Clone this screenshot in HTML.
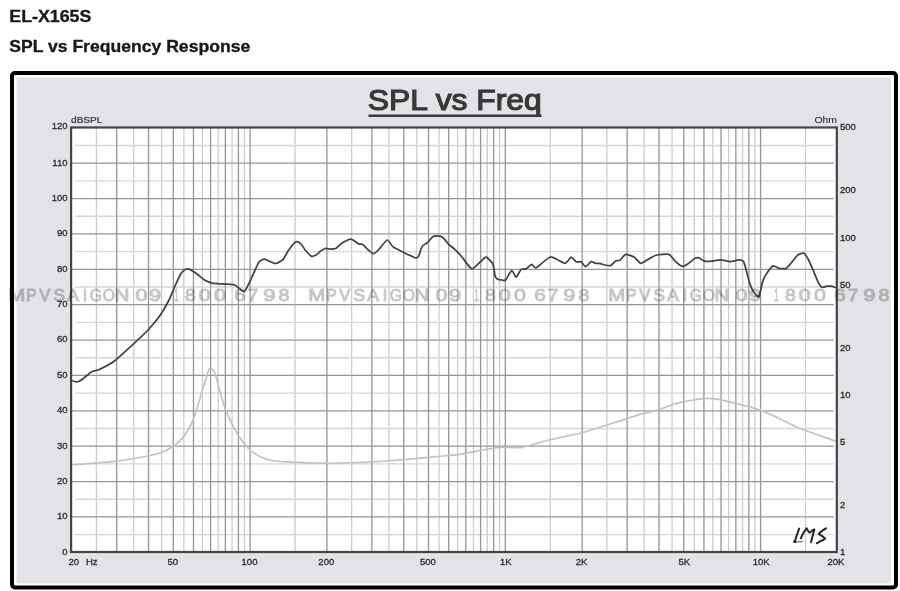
<!DOCTYPE html>
<html><head><meta charset="utf-8"><style>
html,body{margin:0;padding:0;background:#fff;width:900px;height:591px;overflow:hidden}
svg{display:block}
text{font-family:"Liberation Sans",sans-serif}
svg{will-change:transform}
</style></head><body>
<svg width="900" height="591" viewBox="0 0 900 591">
<rect x="0" y="0" width="900" height="591" fill="#fff"/>
<text x="9.3" y="21.5" font-size="17" font-weight="bold" fill="#1a1a1a" stroke="#1a1a1a" stroke-width="0.35" textLength="82" lengthAdjust="spacingAndGlyphs">EL-X165S</text>
<text x="9.2" y="51.5" font-size="16.5" font-weight="bold" fill="#1a1a1a" stroke="#1a1a1a" stroke-width="0.35" textLength="241" lengthAdjust="spacingAndGlyphs">SPL vs Frequency Response</text>
<rect x="12" y="73" width="884" height="514.5" rx="3" fill="#fff" stroke="#000" stroke-width="4"/>
<rect x="16.5" y="77.5" width="874.5" height="506" fill="#e3e2e6"/>
<text x="367.8" y="109.8" font-size="30" fill="#383838" stroke="#383838" stroke-width="1.2" textLength="174" lengthAdjust="spacingAndGlyphs">SPL vs Freq</text>
<rect x="368.5" y="114.5" width="173" height="2.5" fill="#383838"/>
<rect x="71.1" y="127.5" width="765.6999999999999" height="424.5" fill="#fff"/>
<defs><filter id="bl" x="-1%" y="-1%" width="102%" height="102%"><feGaussianBlur stdDeviation="0.4"/></filter></defs>
<g stroke-width="1.3" filter="url(#bl)">
<line x1="96.43" y1="127.5" x2="96.43" y2="552.0" stroke="#cdcdcd"/>
<line x1="133.73" y1="127.5" x2="133.73" y2="552.0" stroke="#cdcdcd"/>
<line x1="161.59" y1="127.5" x2="161.59" y2="552.0" stroke="#cdcdcd"/>
<line x1="183.83" y1="127.5" x2="183.83" y2="552.0" stroke="#cdcdcd"/>
<line x1="202.35" y1="127.5" x2="202.35" y2="552.0" stroke="#cdcdcd"/>
<line x1="218.21" y1="127.5" x2="218.21" y2="552.0" stroke="#cdcdcd"/>
<line x1="232.09" y1="127.5" x2="232.09" y2="552.0" stroke="#cdcdcd"/>
<line x1="244.41" y1="127.5" x2="244.41" y2="552.0" stroke="#cdcdcd"/>
<line x1="295.04" y1="127.5" x2="295.04" y2="552.0" stroke="#cdcdcd"/>
<line x1="351.67" y1="127.5" x2="351.67" y2="552.0" stroke="#cdcdcd"/>
<line x1="388.96" y1="127.5" x2="388.96" y2="552.0" stroke="#cdcdcd"/>
<line x1="416.82" y1="127.5" x2="416.82" y2="552.0" stroke="#cdcdcd"/>
<line x1="439.07" y1="127.5" x2="439.07" y2="552.0" stroke="#cdcdcd"/>
<line x1="457.58" y1="127.5" x2="457.58" y2="552.0" stroke="#cdcdcd"/>
<line x1="473.45" y1="127.5" x2="473.45" y2="552.0" stroke="#cdcdcd"/>
<line x1="487.32" y1="127.5" x2="487.32" y2="552.0" stroke="#cdcdcd"/>
<line x1="499.65" y1="127.5" x2="499.65" y2="552.0" stroke="#cdcdcd"/>
<line x1="550.28" y1="127.5" x2="550.28" y2="552.0" stroke="#cdcdcd"/>
<line x1="606.9" y1="127.5" x2="606.9" y2="552.0" stroke="#cdcdcd"/>
<line x1="644.2" y1="127.5" x2="644.2" y2="552.0" stroke="#cdcdcd"/>
<line x1="672.06" y1="127.5" x2="672.06" y2="552.0" stroke="#cdcdcd"/>
<line x1="694.3" y1="127.5" x2="694.3" y2="552.0" stroke="#cdcdcd"/>
<line x1="712.82" y1="127.5" x2="712.82" y2="552.0" stroke="#cdcdcd"/>
<line x1="728.68" y1="127.5" x2="728.68" y2="552.0" stroke="#cdcdcd"/>
<line x1="742.55" y1="127.5" x2="742.55" y2="552.0" stroke="#cdcdcd"/>
<line x1="754.88" y1="127.5" x2="754.88" y2="552.0" stroke="#cdcdcd"/>
<line x1="805.51" y1="127.5" x2="805.51" y2="552.0" stroke="#cdcdcd"/>
<line x1="75.1" y1="534.61" x2="833.8" y2="534.61" stroke="#d6d6d6"/>
<line x1="75.1" y1="499.24" x2="833.8" y2="499.24" stroke="#d6d6d6"/>
<line x1="75.1" y1="463.86" x2="833.8" y2="463.86" stroke="#d6d6d6"/>
<line x1="75.1" y1="428.49" x2="833.8" y2="428.49" stroke="#d6d6d6"/>
<line x1="75.1" y1="393.11" x2="833.8" y2="393.11" stroke="#d6d6d6"/>
<line x1="75.1" y1="357.74" x2="833.8" y2="357.74" stroke="#d6d6d6"/>
<line x1="75.1" y1="322.36" x2="833.8" y2="322.36" stroke="#d6d6d6"/>
<line x1="75.1" y1="286.99" x2="833.8" y2="286.99" stroke="#d6d6d6"/>
<line x1="75.1" y1="251.61" x2="833.8" y2="251.61" stroke="#d6d6d6"/>
<line x1="75.1" y1="216.24" x2="833.8" y2="216.24" stroke="#d6d6d6"/>
<line x1="75.1" y1="180.86" x2="833.8" y2="180.86" stroke="#d6d6d6"/>
<line x1="75.1" y1="145.49" x2="833.8" y2="145.49" stroke="#d6d6d6"/>
<line x1="116.64" y1="127.5" x2="116.64" y2="552.0" stroke="#959595"/>
<line x1="148.53" y1="127.5" x2="148.53" y2="552.0" stroke="#959595"/>
<line x1="173.27" y1="127.5" x2="173.27" y2="552.0" stroke="#959595"/>
<line x1="193.48" y1="127.5" x2="193.48" y2="552.0" stroke="#959595"/>
<line x1="210.56" y1="127.5" x2="210.56" y2="552.0" stroke="#959595"/>
<line x1="225.37" y1="127.5" x2="225.37" y2="552.0" stroke="#959595"/>
<line x1="238.42" y1="127.5" x2="238.42" y2="552.0" stroke="#959595"/>
<line x1="326.93" y1="127.5" x2="326.93" y2="552.0" stroke="#959595"/>
<line x1="371.88" y1="127.5" x2="371.88" y2="552.0" stroke="#959595"/>
<line x1="403.77" y1="127.5" x2="403.77" y2="552.0" stroke="#959595"/>
<line x1="428.5" y1="127.5" x2="428.5" y2="552.0" stroke="#959595"/>
<line x1="448.71" y1="127.5" x2="448.71" y2="552.0" stroke="#959595"/>
<line x1="465.8" y1="127.5" x2="465.8" y2="552.0" stroke="#959595"/>
<line x1="480.6" y1="127.5" x2="480.6" y2="552.0" stroke="#959595"/>
<line x1="493.65" y1="127.5" x2="493.65" y2="552.0" stroke="#959595"/>
<line x1="250.1" y1="127.5" x2="250.1" y2="552.0" stroke="#959595"/>
<line x1="582.17" y1="127.5" x2="582.17" y2="552.0" stroke="#959595"/>
<line x1="627.11" y1="127.5" x2="627.11" y2="552.0" stroke="#959595"/>
<line x1="659.0" y1="127.5" x2="659.0" y2="552.0" stroke="#959595"/>
<line x1="683.73" y1="127.5" x2="683.73" y2="552.0" stroke="#959595"/>
<line x1="703.94" y1="127.5" x2="703.94" y2="552.0" stroke="#959595"/>
<line x1="721.03" y1="127.5" x2="721.03" y2="552.0" stroke="#959595"/>
<line x1="735.83" y1="127.5" x2="735.83" y2="552.0" stroke="#959595"/>
<line x1="748.89" y1="127.5" x2="748.89" y2="552.0" stroke="#959595"/>
<line x1="505.33" y1="127.5" x2="505.33" y2="552.0" stroke="#959595"/>
<line x1="760.57" y1="127.5" x2="760.57" y2="552.0" stroke="#959595"/>
<line x1="71.1" y1="516.92" x2="833.8" y2="516.92" stroke="#959595"/>
<line x1="71.1" y1="481.55" x2="833.8" y2="481.55" stroke="#959595"/>
<line x1="71.1" y1="446.18" x2="833.8" y2="446.18" stroke="#959595"/>
<line x1="71.1" y1="410.8" x2="833.8" y2="410.8" stroke="#959595"/>
<line x1="71.1" y1="375.43" x2="833.8" y2="375.43" stroke="#959595"/>
<line x1="71.1" y1="340.05" x2="833.8" y2="340.05" stroke="#959595"/>
<line x1="71.1" y1="304.68" x2="833.8" y2="304.68" stroke="#959595"/>
<line x1="71.1" y1="269.3" x2="833.8" y2="269.3" stroke="#959595"/>
<line x1="71.1" y1="233.93" x2="833.8" y2="233.93" stroke="#959595"/>
<line x1="71.1" y1="198.55" x2="833.8" y2="198.55" stroke="#959595"/>
<line x1="71.1" y1="163.18" x2="833.8" y2="163.18" stroke="#959595"/>
</g>
<path d="M72.5,464.7 C74.6,464.6 89.5,463.6 93.9,463.2 C98.4,462.8 112.4,461.8 117.0,461.2 C121.6,460.6 135.8,458.3 140.1,457.5 C144.4,456.7 156.7,454.1 160.0,453.0 C163.3,451.9 170.8,448.0 173.0,446.5 C175.2,445.0 180.6,440.1 182.3,438.1 C184.0,436.2 188.5,429.4 189.8,427.0 C191.1,424.6 194.2,417.2 195.3,414.0 C196.4,410.8 199.8,399.0 200.9,395.3 C202.0,391.6 205.6,379.4 206.5,376.7 C207.4,373.9 209.4,368.2 210.2,367.8 C211.0,367.4 214.0,370.8 214.9,373.0 C215.8,375.2 218.5,386.3 219.5,389.8 C220.5,393.3 223.8,404.9 225.1,408.4 C226.4,411.9 231.1,422.1 232.6,425.1 C234.1,428.1 238.3,435.7 240.0,438.1 C241.7,440.5 247.2,447.4 249.3,449.3 C251.4,451.2 258.3,455.6 260.5,456.7 C262.7,457.8 268.6,460.0 271.6,460.5 C274.6,461.0 285.0,461.8 290.3,462.1 C295.6,462.4 319.1,463.1 325.0,463.2 C330.9,463.3 343.6,463.1 348.9,462.9 C354.2,462.7 372.0,461.9 377.8,461.5 C383.6,461.1 400.9,459.9 406.7,459.4 C412.5,458.9 430.3,457.1 435.6,456.6 C440.9,456.1 455.3,455.1 460.0,454.4 C464.7,453.7 478.2,450.7 482.2,450.0 C486.2,449.3 496.0,447.6 500.0,447.3 C504.0,447.0 517.3,448.0 522.2,447.3 C527.1,446.6 542.9,441.5 548.9,440.0 C554.9,438.5 575.5,434.5 582.2,432.7 C588.9,430.9 609.8,424.0 615.6,422.2 C621.4,420.4 635.8,415.6 640.0,414.4 C644.2,413.2 654.5,411.0 657.8,410.0 C661.1,409.0 670.0,405.4 673.3,404.4 C676.6,403.4 687.8,401.0 691.1,400.4 C694.4,399.8 703.8,398.5 706.7,398.4 C709.6,398.3 716.7,399.0 720.0,399.6 C723.3,400.2 736.0,403.4 740.0,404.4 C744.0,405.4 756.2,408.7 760.0,410.0 C763.8,411.3 774.2,416.1 777.8,417.8 C781.4,419.5 792.1,425.1 795.6,426.7 C799.1,428.2 809.3,431.9 813.3,433.3 C817.3,434.7 833.4,440.3 835.6,441.1" fill="none" stroke="#c2c2c2" stroke-width="1.7" stroke-linejoin="round"/>
<path d="M72.2,380.6 C72.7,380.7 75.7,382.1 76.7,382.0 C77.7,381.9 80.5,380.5 82.0,379.5 C83.5,378.5 90.0,372.8 91.7,371.8 C93.4,370.8 97.0,370.6 99.3,369.5 C101.6,368.4 111.2,363.4 114.5,361.0 C117.8,358.6 128.6,348.4 132.0,345.3 C135.4,342.2 145.7,332.5 148.5,329.5 C151.3,326.5 157.9,318.4 160.0,315.5 C162.1,312.6 167.4,303.1 169.0,300.0 C170.6,296.9 174.3,287.6 175.5,285.0 C176.7,282.4 179.9,275.1 181.0,273.5 C182.1,271.9 185.3,269.4 186.3,269.0 C187.3,268.6 189.8,269.4 190.9,269.9 C192.0,270.4 195.6,273.0 197.0,274.0 C198.4,275.0 203.1,279.2 204.6,280.1 C206.1,281.0 210.5,282.8 212.2,283.2 C213.9,283.6 219.6,283.8 221.3,283.9 C223.0,284.0 227.6,284.1 228.9,284.2 C230.2,284.3 233.2,284.3 234.2,284.7 C235.2,285.1 238.0,287.4 239.0,288.1 C240.0,288.8 243.2,292.2 244.3,291.6 C245.4,291.0 248.6,284.1 249.6,282.1 C250.6,280.1 253.4,273.5 254.4,271.5 C255.4,269.5 258.1,263.1 259.1,261.8 C260.1,260.6 263.3,259.0 264.4,259.0 C265.5,259.0 268.7,260.9 269.8,261.4 C270.9,261.8 274.4,263.7 275.7,263.5 C277.0,263.3 281.5,260.9 282.8,259.6 C284.1,258.3 287.4,251.9 288.7,250.1 C290.0,248.3 294.6,242.5 295.8,241.8 C297.0,241.2 299.7,242.8 300.6,243.6 C301.6,244.4 304.2,248.8 305.3,250.1 C306.4,251.3 310.1,255.6 311.2,256.1 C312.3,256.6 315.1,255.4 316.0,254.9 C316.9,254.4 319.6,251.8 320.6,251.1 C321.6,250.4 324.6,248.5 325.6,248.3 C326.6,248.1 329.6,249.2 330.6,249.2 C331.6,249.2 334.5,249.2 335.6,248.6 C336.7,248.0 340.5,244.1 341.7,243.3 C342.9,242.5 346.3,240.7 347.2,240.3 C348.1,239.9 349.9,239.2 350.6,239.2 C351.3,239.2 353.1,240.1 353.9,240.6 C354.7,241.1 358.0,243.7 358.9,244.1 C359.8,244.5 361.9,243.8 362.8,244.4 C363.7,245.0 367.2,249.1 368.3,250.0 C369.4,250.9 372.3,253.7 373.3,253.7 C374.3,253.7 376.9,251.4 378.3,250.0 C379.7,248.6 385.8,240.3 387.2,240.0 C388.6,239.7 391.6,245.7 392.8,246.7 C394.0,247.7 398.1,249.6 399.4,250.3 C400.7,251.0 405.0,253.2 406.1,253.7 C407.2,254.2 409.6,255.2 410.6,255.6 C411.6,256.0 415.3,258.1 416.1,258.1 C416.9,258.1 418.3,256.8 418.9,255.6 C419.5,254.4 421.4,247.4 422.2,246.1 C423.0,244.8 426.1,243.7 427.2,242.8 C428.3,241.9 431.6,237.4 432.8,236.7 C434.0,236.0 438.3,236.0 439.4,236.1 C440.4,236.2 442.4,237.0 443.3,237.8 C444.2,238.6 447.0,242.6 448.3,243.9 C449.6,245.2 454.8,249.3 456.1,250.6 C457.4,251.9 460.6,255.4 461.7,256.7 C462.8,258.0 466.1,262.7 467.2,263.9 C468.2,265.1 470.9,269.1 472.2,268.9 C473.5,268.7 479.2,262.9 480.6,261.7 C482.0,260.5 484.9,257.0 486.1,257.2 C487.3,257.4 491.9,262.1 492.8,263.9 C493.7,265.7 494.6,274.1 495.0,275.6 C495.4,277.1 496.5,278.5 497.2,278.9 C497.9,279.3 500.9,279.9 501.7,280.0 C502.5,280.1 504.6,280.9 505.6,280.0 C506.6,279.1 510.6,270.9 511.7,270.6 C512.8,270.3 515.2,277.3 516.1,277.2 C517.0,277.1 520.1,270.2 521.1,269.4 C522.1,268.6 525.0,269.4 526.1,268.9 C527.2,268.4 530.7,264.5 531.7,264.4 C532.7,264.3 534.2,268.5 536.1,267.8 C538.0,267.1 547.7,257.4 550.6,257.0 C553.5,256.6 563.0,263.3 565.0,263.3 C567.0,263.3 570.0,257.4 571.1,257.2 C572.2,257.0 575.1,261.2 576.1,261.7 C577.1,262.2 580.1,261.4 581.1,261.9 C582.1,262.4 584.6,266.7 585.6,266.7 C586.6,266.7 590.1,262.0 591.1,261.7 C592.1,261.4 594.6,263.1 595.6,263.3 C596.6,263.5 599.7,263.4 600.6,263.6 C601.5,263.8 603.4,264.8 604.4,265.0 C605.4,265.2 609.5,266.0 610.6,265.6 C611.7,265.2 614.7,261.4 615.6,260.9 C616.5,260.4 619.0,260.8 620.0,260.2 C621.0,259.6 624.2,254.7 625.6,254.4 C627.0,254.1 632.9,256.3 634.4,257.2 C635.9,258.1 639.1,263.1 640.6,263.3 C642.1,263.5 647.3,259.7 648.9,258.9 C650.5,258.1 654.7,255.4 656.7,255.0 C658.7,254.6 667.0,253.7 668.9,254.4 C670.8,255.1 674.3,260.5 675.6,261.7 C676.9,262.9 681.0,266.2 682.2,266.4 C683.4,266.6 686.5,264.7 687.8,263.9 C689.1,263.1 693.9,258.9 695.0,258.3 C696.1,257.7 698.0,257.5 698.9,257.8 C699.8,258.1 703.1,260.8 704.4,261.1 C705.7,261.4 710.1,261.2 711.7,261.1 C713.3,261.0 718.7,259.7 720.6,259.8 C722.5,259.9 728.8,261.7 730.6,261.7 C732.4,261.7 737.0,259.9 738.3,259.8 C739.6,259.7 742.6,260.3 743.3,261.1 C744.0,261.9 745.0,265.7 745.6,267.8 C746.2,269.9 748.6,279.8 749.4,282.2 C750.2,284.6 752.9,290.8 753.9,292.2 C754.9,293.6 758.0,297.8 758.9,296.7 C759.8,295.6 761.9,283.7 762.8,281.1 C763.7,278.5 767.2,272.6 768.3,271.1 C769.3,269.6 772.2,266.1 773.3,265.8 C774.4,265.5 778.0,268.2 779.3,268.4 C780.6,268.6 785.3,268.6 786.4,268.2 C787.5,267.8 789.4,265.2 790.5,263.9 C791.6,262.6 796.3,256.3 797.6,255.2 C798.9,254.1 802.7,252.9 803.7,253.2 C804.7,253.5 806.8,256.7 807.7,258.3 C808.6,259.9 811.8,267.1 812.8,269.4 C813.8,271.7 817.0,279.8 817.9,281.6 C818.8,283.4 821.0,286.7 821.9,287.2 C822.8,287.7 826.1,286.3 827.0,286.2 C827.9,286.1 830.2,286.1 831.1,286.2 C832.0,286.3 835.6,287.6 836.1,287.7" fill="none" stroke="#424242" stroke-width="1.75" stroke-linejoin="round"/>
<rect x="71.1" y="127.5" width="765.6999999999999" height="424.5" fill="none" stroke="#444" stroke-width="2.2"/>
<g font-size="9.5" fill="#2a2a2a" stroke="#2a2a2a" stroke-width="0.3">
<text x="67.5" y="554.6" text-anchor="end">0</text>
<text x="67.5" y="519.2" text-anchor="end">10</text>
<text x="67.5" y="483.9" text-anchor="end">20</text>
<text x="67.5" y="448.5" text-anchor="end">30</text>
<text x="67.5" y="413.1" text-anchor="end">40</text>
<text x="67.5" y="377.7" text-anchor="end">50</text>
<text x="67.5" y="342.4" text-anchor="end">60</text>
<text x="67.5" y="307.0" text-anchor="end">70</text>
<text x="67.5" y="271.6" text-anchor="end">80</text>
<text x="67.5" y="236.2" text-anchor="end">90</text>
<text x="67.5" y="200.8" text-anchor="end">100</text>
<text x="67.5" y="165.5" text-anchor="end">110</text>
<text x="67.5" y="128.6" text-anchor="end">120</text>
<text x="840" y="129.8">500</text>
<text x="840" y="193.4">200</text>
<text x="840" y="240.7">100</text>
<text x="840" y="288.1">50</text>
<text x="840" y="350.7">20</text>
<text x="840" y="398.0">10</text>
<text x="840" y="445.4">5</text>
<text x="840" y="508.0">2</text>
<text x="840" y="555.3">1</text>
<text x="68.5" y="564.6">20</text><text x="86" y="564.6">Hz</text>
<text x="172.7" y="564.6" text-anchor="middle">50</text>
<text x="249.5" y="564.6" text-anchor="middle">100</text>
<text x="326.3" y="564.6" text-anchor="middle">200</text>
<text x="427.9" y="564.6" text-anchor="middle">500</text>
<text x="505.9" y="564.6" text-anchor="middle">1K</text>
<text x="581.6" y="564.6" text-anchor="middle">2K</text>
<text x="684.3" y="564.6" text-anchor="middle">5K</text>
<text x="761.2" y="564.6" text-anchor="middle">10K</text>
<text x="836.0" y="564.6" text-anchor="middle">20K</text>
<text x="71" y="123" font-size="8.5" stroke-width="0.15" textLength="31.5" lengthAdjust="spacingAndGlyphs">dBSPL</text>
<text x="814.5" y="123" font-size="9" stroke-width="0.1" textLength="22.5" lengthAdjust="spacingAndGlyphs">Ohm</text>
</g>
<g font-size="15.6" fill="#000" stroke="#000" stroke-width="1.0" opacity="0.22">
<text transform="translate(16.7,300.7) scale(1.31,1)" text-anchor="middle">M</text><text x="31.4" y="300.7" text-anchor="middle">P</text><text transform="translate(44.7,300.7) scale(1.06,1)" text-anchor="middle">V</text><text transform="translate(59.0,300.7) scale(1.13,1)" text-anchor="middle">S</text><text transform="translate(73.0,300.7) scale(1.12,1)" text-anchor="middle">A</text><text x="85.0" y="300.7" text-anchor="middle">I</text><text x="95.7" y="300.7" text-anchor="middle">G</text><text x="108.7" y="300.7" text-anchor="middle">O</text><text transform="translate(121.9,300.7) scale(1.32,1)" text-anchor="middle">N</text><text transform="translate(141.6,300.7) scale(1.38,1)" text-anchor="middle">0</text><text transform="translate(155.0,300.7) scale(1.4,1)" text-anchor="middle">9</text><text transform="translate(176.3,300.7) scale(0.5,1)" text-anchor="middle">1</text><text transform="translate(190.4,300.7) scale(1.25,1)" text-anchor="middle">8</text><text transform="translate(204.7,300.7) scale(1.38,1)" text-anchor="middle">0</text><text transform="translate(220.0,300.7) scale(1.38,1)" text-anchor="middle">0</text><text transform="translate(240.0,300.7) scale(1.32,1)" text-anchor="middle">6</text><text transform="translate(253.0,300.7) scale(1.25,1)" text-anchor="middle">7</text><text transform="translate(269.3,300.7) scale(1.4,1)" text-anchor="middle">9</text><text transform="translate(284.0,300.7) scale(1.25,1)" text-anchor="middle">8</text>
<text transform="translate(316.7,300.7) scale(1.31,1)" text-anchor="middle">M</text><text x="331.4" y="300.7" text-anchor="middle">P</text><text transform="translate(344.7,300.7) scale(1.06,1)" text-anchor="middle">V</text><text transform="translate(359.0,300.7) scale(1.13,1)" text-anchor="middle">S</text><text transform="translate(373.0,300.7) scale(1.12,1)" text-anchor="middle">A</text><text x="385.0" y="300.7" text-anchor="middle">I</text><text x="395.7" y="300.7" text-anchor="middle">G</text><text x="408.7" y="300.7" text-anchor="middle">O</text><text transform="translate(421.9,300.7) scale(1.32,1)" text-anchor="middle">N</text><text transform="translate(441.6,300.7) scale(1.38,1)" text-anchor="middle">0</text><text transform="translate(455.0,300.7) scale(1.4,1)" text-anchor="middle">9</text><text transform="translate(476.3,300.7) scale(0.5,1)" text-anchor="middle">1</text><text transform="translate(490.4,300.7) scale(1.25,1)" text-anchor="middle">8</text><text transform="translate(504.7,300.7) scale(1.38,1)" text-anchor="middle">0</text><text transform="translate(520.0,300.7) scale(1.38,1)" text-anchor="middle">0</text><text transform="translate(540.0,300.7) scale(1.32,1)" text-anchor="middle">6</text><text transform="translate(553.0,300.7) scale(1.25,1)" text-anchor="middle">7</text><text transform="translate(569.3,300.7) scale(1.4,1)" text-anchor="middle">9</text><text transform="translate(584.0,300.7) scale(1.25,1)" text-anchor="middle">8</text>
<text transform="translate(616.7,300.7) scale(1.31,1)" text-anchor="middle">M</text><text x="631.4" y="300.7" text-anchor="middle">P</text><text transform="translate(644.7,300.7) scale(1.06,1)" text-anchor="middle">V</text><text transform="translate(659.0,300.7) scale(1.13,1)" text-anchor="middle">S</text><text transform="translate(673.0,300.7) scale(1.12,1)" text-anchor="middle">A</text><text x="685.0" y="300.7" text-anchor="middle">I</text><text x="695.7" y="300.7" text-anchor="middle">G</text><text x="708.7" y="300.7" text-anchor="middle">O</text><text transform="translate(721.9,300.7) scale(1.32,1)" text-anchor="middle">N</text><text transform="translate(741.6,300.7) scale(1.38,1)" text-anchor="middle">0</text><text transform="translate(755.0,300.7) scale(1.4,1)" text-anchor="middle">9</text><text transform="translate(776.3,300.7) scale(0.5,1)" text-anchor="middle">1</text><text transform="translate(790.4,300.7) scale(1.25,1)" text-anchor="middle">8</text><text transform="translate(804.7,300.7) scale(1.38,1)" text-anchor="middle">0</text><text transform="translate(820.0,300.7) scale(1.38,1)" text-anchor="middle">0</text><text transform="translate(840.0,300.7) scale(1.32,1)" text-anchor="middle">6</text><text transform="translate(853.0,300.7) scale(1.25,1)" text-anchor="middle">7</text><text transform="translate(869.3,300.7) scale(1.4,1)" text-anchor="middle">9</text><text transform="translate(884.0,300.7) scale(1.25,1)" text-anchor="middle">8</text>
</g>
<g fill="none" stroke="#1e1e1e" stroke-width="1.9" stroke-linecap="round" stroke-linejoin="round">
<path d="M799.2,528.6 C797.5,533 796,537.5 794.6,542"/>
<path d="M795,542 L802.5,541.5" stroke="#888" stroke-width="1.3"/>
<path d="M800.8,538.3 C802.5,534.5 804.5,530.5 806.6,528.3 C808,531 809,533 810,532.5 C811.5,531 813,529.5 814.4,529.4 C813.2,533.5 812,538 811,542.4"/>
<path d="M826,528.3 C823,530 820,532 818.6,534 C821,535.5 823.5,536.5 825.3,538.6 C822,540.5 819,542 816.8,543.3"/>
</g>
<circle cx="794.8" cy="541.6" r="1.5" fill="#111"/>
</svg>
</body></html>
